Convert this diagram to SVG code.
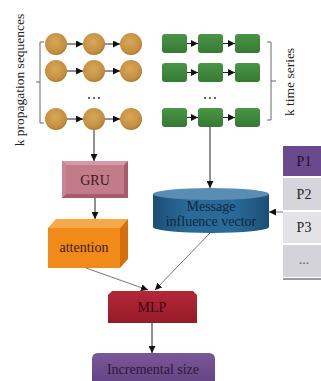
<svg xmlns="http://www.w3.org/2000/svg" width="321" height="381" viewBox="0 0 321 381">
  <defs>
    <radialGradient id="gold" cx="45%" cy="40%" r="60%">
      <stop offset="0" stop-color="#d9a75a"/>
      <stop offset="0.8" stop-color="#c48f3f"/>
      <stop offset="1" stop-color="#a87730"/>
    </radialGradient>
    <linearGradient id="green" x1="0" y1="0" x2="0" y2="1">
      <stop offset="0" stop-color="#4a9546"/>
      <stop offset="1" stop-color="#357a32"/>
    </linearGradient>
    <linearGradient id="cylBody" x1="0" y1="0" x2="1" y2="0">
      <stop offset="0" stop-color="#1b4f75"/>
      <stop offset="0.3" stop-color="#2a6a98"/>
      <stop offset="0.7" stop-color="#2a6a98"/>
      <stop offset="1" stop-color="#1b4f75"/>
    </linearGradient>
    <linearGradient id="mlp" x1="0" y1="0" x2="0" y2="1">
      <stop offset="0" stop-color="#b32839"/>
      <stop offset="1" stop-color="#961a28"/>
    </linearGradient>
    <linearGradient id="inc" x1="0" y1="0" x2="0" y2="1">
      <stop offset="0" stop-color="#7a579a"/>
      <stop offset="1" stop-color="#654585"/>
    </linearGradient>
    <marker id="arrow" markerUnits="userSpaceOnUse" markerWidth="8" markerHeight="7" refX="7" refY="3.5" orient="auto">
      <path d="M0,0 L7,3.5 L0,7 z" fill="#111"/>
    </marker>
  </defs>
  <style>
    .lbl { font-family: "Liberation Serif", "Times New Roman", serif; font-size: 14px; text-anchor: middle; }
    .side { font-family: "Liberation Serif", "Times New Roman", serif; font-size: 13.5px; text-anchor: middle; fill: #222; }
    .bead { fill: url(#gold); }
    .cell { fill: url(#green); }
    .edge { stroke: #222; stroke-width: 1; fill: none; marker-end: url(#arrow); }
    .thin { stroke: #555; stroke-width: 0.8; fill: none; marker-end: url(#arrow); }
    .brace { stroke: #666; stroke-width: 1; fill: none; }
    .dot { fill: #333; }
  </style>

  <rect width="321" height="381" fill="#ffffff"/>

  <!-- propagation sequences (beads) -->
  <g id="sequences">
    <circle class="bead" cx="56" cy="44" r="11"/>
    <circle class="bead" cx="94" cy="44" r="11"/>
    <circle class="bead" cx="131" cy="44" r="11"/>
    <circle class="bead" cx="56" cy="71" r="11"/>
    <circle class="bead" cx="94" cy="71" r="11"/>
    <circle class="bead" cx="131" cy="71" r="11"/>
    <circle class="bead" cx="56" cy="119" r="11"/>
    <circle class="bead" cx="94" cy="119" r="11"/>
    <circle class="bead" cx="131" cy="119" r="11"/>
    <circle class="dot" cx="89" cy="98" r="1"/>
    <circle class="dot" cx="94" cy="98" r="1"/>
    <circle class="dot" cx="99" cy="98" r="1"/>
    <path class="brace" d="M44,42 H40 V123 H44 M40,82 H36"/>
    <text class="side" transform="translate(24,80) rotate(-90)">k propagation sequences</text>
  </g>

  <!-- time series (cells) -->
  <g id="series">
    <rect class="cell" x="162" y="34" width="25" height="19" rx="3"/>
    <rect class="cell" x="198" y="34" width="25" height="19" rx="3"/>
    <rect class="cell" x="235" y="34" width="25" height="19" rx="3"/>
    <rect class="cell" x="162" y="63" width="25" height="19" rx="3"/>
    <rect class="cell" x="198" y="63" width="25" height="19" rx="3"/>
    <rect class="cell" x="235" y="63" width="25" height="19" rx="3"/>
    <rect class="cell" x="162" y="108" width="25" height="19" rx="3"/>
    <rect class="cell" x="198" y="108" width="25" height="19" rx="3"/>
    <rect class="cell" x="235" y="108" width="25" height="19" rx="3"/>
    <circle class="dot" cx="205" cy="98" r="1"/>
    <circle class="dot" cx="210" cy="98" r="1"/>
    <circle class="dot" cx="215" cy="98" r="1"/>
    <path class="brace" d="M267,42 H271 V120 H267 M271,81 H276"/>
    <text class="side" transform="translate(294,82) rotate(-90)">k time series</text>
  </g>

  <!-- GRU -->
  <g id="gru">
    <rect x="62" y="161" width="66" height="37" fill="#a85a6c"/>
    <polygon points="62,161 128,161 124,165 66,165" fill="#d59aa6"/>
    <polygon points="62,161 66,165 66,194 62,198" fill="#c98593"/>
    <rect x="66" y="165" width="58" height="29" fill="#c27b89"/>
    <text class="lbl" x="95" y="185" fill="#3a1a22">GRU</text>
  </g>

  <!-- attention -->
  <g id="attention">
    <polygon points="48,228 56,219 128,219 120,228" fill="#f7a84a"/>
    <polygon points="120,228 128,219 128,259 120,268" fill="#d66f0a"/>
    <rect x="48" y="228" width="72" height="40" fill="#f28a1a"/>
    <text class="lbl" x="84" y="252" fill="#3a1a00">attention</text>
  </g>

  <!-- message influence vector -->
  <g id="message">
    <path d="M153,194 V227 A58,6 0 0 0 269,227 V194 Z" fill="url(#cylBody)"/>
    <ellipse cx="211" cy="194" rx="58" ry="6" fill="#5a8db3"/>
    <text class="lbl" x="211" y="211" fill="#0e2740">Message</text>
    <text class="lbl" x="211" y="226" fill="#0e2740">influence vector</text>
  </g>

  <!-- P list -->
  <g id="plist">
    <rect x="283" y="278" width="38" height="2" fill="#9a9aa0"/>
    <rect x="283" y="146" width="38" height="30" fill="#6a4a8c"/>
    <rect x="283" y="178" width="38" height="32" fill="#d6d4db"/>
    <rect x="283" y="212" width="38" height="31" fill="#e3e2e7"/>
    <rect x="283" y="245" width="38" height="32" fill="#d4d3d9"/>
    <text class="lbl" x="304" y="166" fill="#1e1030">P1</text>
    <text class="lbl" x="304" y="199" fill="#222">P2</text>
    <text class="lbl" x="304" y="232" fill="#222">P3</text>
    <text class="lbl" x="304" y="264" fill="#666" font-size="10">...</text>
  </g>

  <!-- MLP -->
  <g id="mlp">
    <path d="M112,291 H193 L197,295 V323 H108 V295 Z" fill="url(#mlp)"/>
    <text class="lbl" x="152" y="312" fill="#3a0810">MLP</text>
  </g>

  <!-- incremental size -->
  <g id="incremental">
    <path d="M98,353 H209 Q215,353 215,359 V381 H92 V359 Q92,353 98,353 Z" fill="url(#inc)"/>
    <text class="lbl" x="153" y="374" fill="#2a1838">Incremental size</text>
  </g>

  <!-- connectors -->
  <g id="connectors">
    <line class="edge" x1="67" y1="44" x2="83" y2="44"/>
    <line class="edge" x1="105" y1="44" x2="120" y2="44"/>
    <line class="edge" x1="67" y1="71" x2="83" y2="71"/>
    <line class="edge" x1="105" y1="71" x2="120" y2="71"/>
    <line class="edge" x1="67" y1="119" x2="83" y2="119"/>
    <line class="edge" x1="105" y1="119" x2="120" y2="119"/>
    <line class="edge" x1="187" y1="43.5" x2="198" y2="43.5"/>
    <line class="edge" x1="223" y1="43.5" x2="235" y2="43.5"/>
    <line class="edge" x1="187" y1="72.5" x2="198" y2="72.5"/>
    <line class="edge" x1="223" y1="72.5" x2="235" y2="72.5"/>
    <line class="edge" x1="187" y1="117.5" x2="198" y2="117.5"/>
    <line class="edge" x1="223" y1="117.5" x2="235" y2="117.5"/>
    <line class="edge" x1="94" y1="130" x2="94" y2="161"/>
    <line class="edge" x1="95" y1="198" x2="95" y2="219"/>
    <line class="edge" x1="210" y1="127" x2="210" y2="188"/>
    <line class="thin" x1="283" y1="212" x2="269" y2="212"/>
    <line class="thin" x1="86" y1="268" x2="148" y2="290"/>
    <line class="thin" x1="210" y1="233" x2="155" y2="290"/>
    <line class="edge" x1="152" y1="323" x2="152" y2="353"/>
  </g>
</svg>
